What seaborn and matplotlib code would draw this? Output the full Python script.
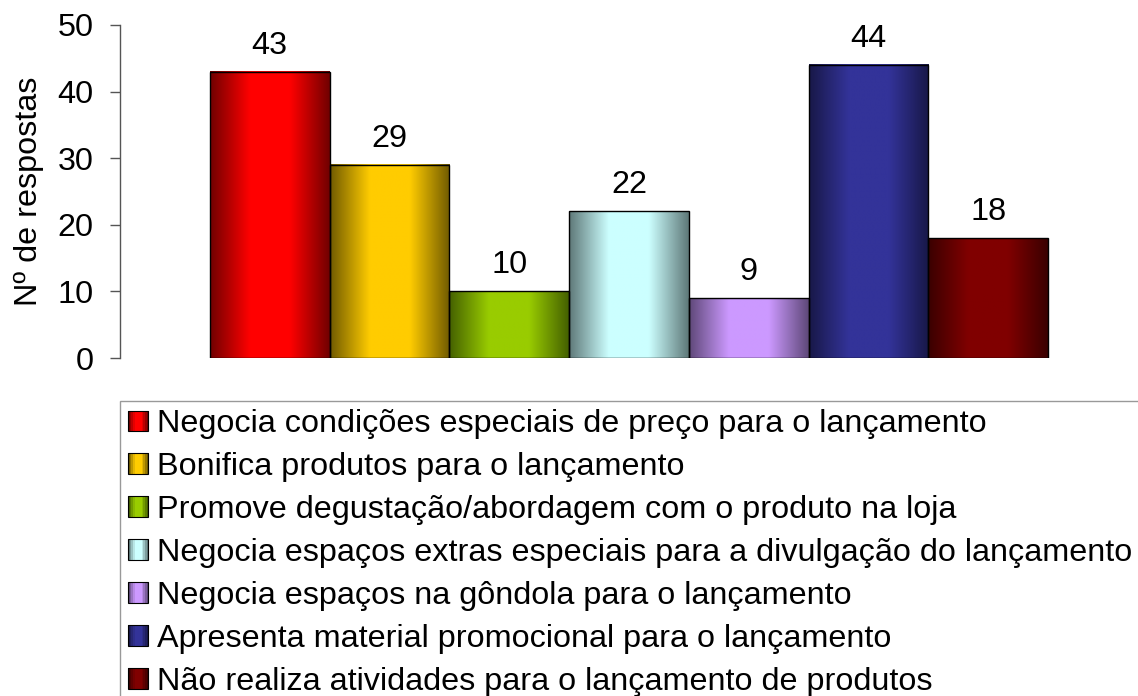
import numpy as np
import pandas as pd
import matplotlib
matplotlib.use("Agg")
import matplotlib.pyplot as plt
import seaborn as sns
from matplotlib.patches import Rectangle
from matplotlib.legend_handler import HandlerBase
from matplotlib.colors import to_rgb

categories = [
    "Negocia condições especiais de preço para o lançamento",
    "Bonifica produtos para o lançamento",
    "Promove degustação/abordagem com o produto na loja",
    "Negocia espaços extras especiais para a divulgação do lançamento",
    "Negocia espaços na gôndola para o lançamento",
    "Apresenta material promocional para o lançamento",
    "Não realiza atividades para o lançamento de produtos",
]
values = [43, 29, 10, 22, 9, 44, 18]
center_colors = ["#FF0000", "#FFCC00", "#99CC00", "#CCFFFF", "#CC99FF", "#333399", "#800000"]
edge_colors = ["#700000", "#705a00", "#446000", "#5e7878", "#5e4878", "#181848", "#3a0000"]
y_ticks = [0, 10, 20, 30, 40, 50]
y_label = "Nº de respostas"

FS = 23.3

sns.set_theme(style="white")
plt.rcParams['font.family'] = ['Liberation Sans', 'DejaVu Sans']
plt.rcParams['text.color'] = 'black'

fig = plt.figure(figsize=(11.38, 6.96), dpi=100)
ax = fig.add_axes([120/1138, (696-358)/696, 1 - 120/1138, (358-25)/696])

df = pd.DataFrame({"cat": categories, "val": values})
sns.barplot(data=df, x="cat", y="val", hue="cat", palette=center_colors,
            width=1.0, legend=False, ax=ax, edgecolor="black", linewidth=1.0,
            saturation=1.0, order=categories, hue_order=categories)


def grad_array(c_edge, c_mid, n=256):
    e = np.array(to_rgb(c_edge)); m = np.array(to_rgb(c_mid))
    t = np.linspace(0, 1, n)
    w = 1 - np.abs(t - 0.5) / 0.5
    w = np.clip(w * 1.5, 0, 1) ** 1.0
    arr = e[None, :] * (1 - w[:, None]) + m[None, :] * w[:, None]
    return arr[None, :, :]


for patch, ce, cm in zip(ax.patches, edge_colors, center_colors):
    x0, y0 = patch.get_x(), patch.get_y()
    w, h = patch.get_width(), patch.get_height()
    ax.imshow(grad_array(ce, cm), extent=[x0, x0 + w, y0, y0 + h],
              aspect="auto", zorder=2, interpolation="bilinear")
    patch.set_facecolor("none")
    patch.set_zorder(3)

ax.set_xlim(-1.25, 7.25)
ax.set_ylim(0, 50)
ax.set_yticks(y_ticks)
ax.set_xticks([])
ax.set_xlabel("")
ax.set_ylabel(y_label, fontsize=FS, labelpad=10, color="black")
ax.tick_params(axis="y", direction="out", length=7, width=1, color="#555555",
               labelsize=FS, labelcolor="black", pad=12, left=True)
for s in ["top", "right", "bottom"]:
    ax.spines[s].set_visible(False)
ax.spines["left"].set_color("#555555")
ax.spines["left"].set_linewidth(1)

for patch, v in zip(ax.patches, values):
    ax.annotate(str(v), (patch.get_x() + patch.get_width() / 2, patch.get_height()),
                xytext=(0, 13), textcoords="offset points", ha="center", va="baseline",
                fontsize=FS, color="black")


class GradHandler(HandlerBase):
    def __init__(self, ce, cm):
        super().__init__()
        self.ce, self.cm = ce, cm

    def create_artists(self, legend, orig_handle, xdescent, ydescent, width, height, fontsize, trans):
        size = min(width, height)
        x0 = -xdescent
        y0 = -ydescent + (height - size) / 2
        arr = grad_array(self.ce, self.cm, 12)[0]
        arts = []
        n = len(arr)
        for i, c in enumerate(arr):
            r = Rectangle((x0 + size * i / n, y0), size / n + 0.3, size, facecolor=c,
                          edgecolor="none", transform=trans)
            arts.append(r)
        arts.append(Rectangle((x0, y0), size, size, facecolor="none", edgecolor="black",
                              linewidth=0.8, transform=trans))
        return arts


handles = [Rectangle((0, 0), 1, 1, facecolor=c) for c in center_colors]
hmap = {h: GradHandler(ce, cm) for h, ce, cm in zip(handles, edge_colors, center_colors)}
leg = fig.legend(handles, categories, handler_map=hmap, loc="upper left",
                 bbox_to_anchor=(120/1138, 1 - 401/696), bbox_transform=fig.transFigure,
                 borderaxespad=0, fontsize=FS, frameon=True, fancybox=False,
                 edgecolor="#808080", handlelength=0.63, handleheight=0.63,
                 handletextpad=0.26, labelspacing=0.4, borderpad=0.25)
leg.get_frame().set_linewidth(1)
for t in leg.get_texts():
    t.set_color("black")

fig.savefig("out.png", dpi=100)
